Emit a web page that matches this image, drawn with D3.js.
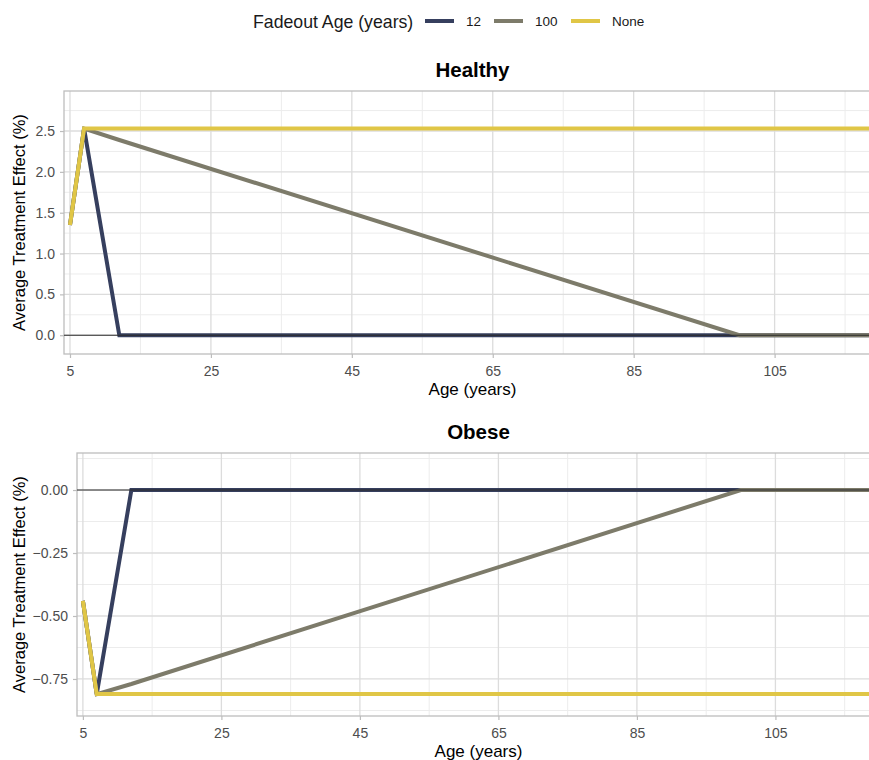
<!DOCTYPE html>
<html><head><meta charset="utf-8">
<script src="https://cdn.jsdelivr.net/npm/d3@7"></script>
<style>body{margin:0;background:#fff;} svg{display:block;font-family:"Liberation Sans",Arial,sans-serif;}</style>
</head><body>
<svg id="chart" width="869" height="760"></svg>
<script>
// ---- data ----
const ages = [5, 7, 12, 100, 125];
const seriesNames = ["12", "100", "None"];
const seriesColors = ["#363f5e", "#7d7b6a", "#e0c646"];
const healthy12 = [1.35, 2.53, 0, 0, 0];
const healthy100 = [1.35, 2.53, 2.39, 0, 0];
const healthyNone = [1.35, 2.53, 2.53, 2.53, 2.53];
const obese12 = [-0.44, -0.81, 0, 0, 0];
const obese100 = [-0.44, -0.81, -0.77, 0, 0];
const obeseNone = [-0.44, -0.81, -0.81, -0.81, -0.81];
const xTicks = [5, 25, 45, 65, 85, 105];
const xMinor = [15, 35, 55, 75, 95, 115];
const healthyYTicks = [0, 0.5, 1, 1.5, 2, 2.5];
const healthyYMinor = [0.25, 0.75, 1.25, 1.75, 2.25, 2.75];
const obeseYTicks = [0, -0.25, -0.5, -0.75];
const obeseYMinor = [0.125, -0.125, -0.375, -0.625, -0.875];

const svg = d3.select("#chart");

// legend
const lg = svg.append("g");
lg.append("text").attr("x", 253).attr("y", 28).attr("font-size", 17.7).attr("fill", "#1a1a1a").text("Fadeout Age (years)");
const legendX = [425, 494, 571];
seriesNames.forEach((n, i) => {
  lg.append("line").attr("x1", legendX[i]).attr("x2", legendX[i] + 29).attr("y1", 21).attr("y2", 21)
    .attr("stroke", seriesColors[i]).attr("stroke-width", 4);
  lg.append("text").attr("x", legendX[i] + 41).attr("y", 26).attr("font-size", 13.5).attr("fill", "#1a1a1a").text(n);
});

function panel(cfg) {
  const g = svg.append("g");
  const R = cfg.right;
  const x = d3.scaleLinear().domain([4.15, 120.1]).range([cfg.left, R]);
  const y = d3.scaleLinear().domain(cfg.yDomain).range([cfg.bottom, cfg.top]);
  // minor grid
  g.selectAll(".xm").data(xMinor).join("line").attr("x1", d => x(d)).attr("x2", d => x(d))
    .attr("y1", cfg.top).attr("y2", cfg.bottom).attr("stroke", "#ececec").attr("stroke-width", 1);
  g.selectAll(".ym").data(cfg.yMinor).join("line").attr("y1", d => y(d)).attr("y2", d => y(d))
    .attr("x1", cfg.left).attr("x2", R).attr("stroke", "#ececec").attr("stroke-width", 1);
  // major grid
  g.selectAll(".xg").data(xTicks).join("line").attr("x1", d => x(d)).attr("x2", d => x(d))
    .attr("y1", cfg.top).attr("y2", cfg.bottom).attr("stroke", "#dcdcdc").attr("stroke-width", 1.3);
  g.selectAll(".yg").data(cfg.yTicks).join("line").attr("y1", d => y(d)).attr("y2", d => y(d))
    .attr("x1", cfg.left).attr("x2", R).attr("stroke", "#dcdcdc").attr("stroke-width", 1.3);
  // border
  g.append("rect").attr("x", cfg.left).attr("y", cfg.top).attr("width", R - cfg.left)
    .attr("height", cfg.bottom - cfg.top).attr("fill", "none").attr("stroke", "#bdbdbd").attr("stroke-width", 1.3);
  // axes
  const xa = g.append("g").attr("transform", `translate(0,${cfg.bottom})`)
    .call(d3.axisBottom(x).tickValues(xTicks).tickFormat(d3.format("d")).tickSize(4).tickPadding(8));
  const ya = g.append("g").attr("transform", `translate(${cfg.left},0)`)
    .call(d3.axisLeft(y).tickValues(cfg.yTicks).tickFormat(cfg.fmt).tickSize(4).tickPadding(5));
  [xa, ya].forEach(a => {
    a.select(".domain").remove();
    a.selectAll(".tick line").attr("stroke", "#bdbdbd").attr("stroke-width", 1.2);
    a.selectAll(".tick text").attr("fill", "#4d4d4d").attr("font-size", 14).attr("font-family", "Liberation Sans, Arial, sans-serif");
  });
  // lines
  const line = d3.line().x((d, i) => x(ages[i])).y(d => y(d));
  const clipId = "clip" + cfg.id;
  svg.append("clipPath").attr("id", clipId).append("rect").attr("x", cfg.left).attr("y", cfg.top)
    .attr("width", R - cfg.left).attr("height", cfg.bottom - cfg.top);
  const lines = g.append("g").attr("clip-path", `url(#${clipId})`);
  cfg.series.forEach((s, i) => {
    lines.append("path").datum(s).attr("d", line).attr("fill", "none")
      .attr("stroke", seriesColors[i]).attr("stroke-width", 4).attr("stroke-linejoin", "miter").attr("stroke-linecap", "butt");
  });
  lines.append("line").attr("x1", cfg.left).attr("x2", R).attr("y1", y(0)).attr("y2", y(0))
    .attr("stroke", "#2b2b2b").attr("stroke-width", 1.1);
  // titles
  const cx = (cfg.left + R) / 2;
  g.append("text").attr("x", cx).attr("y", cfg.top - 14).attr("text-anchor", "middle")
    .attr("font-size", 20.5).attr("font-weight", "bold").attr("fill", "#000").text(cfg.title);
  g.append("text").attr("x", cx).attr("y", cfg.bottom + 41).attr("text-anchor", "middle")
    .attr("font-size", 17).attr("fill", "#000").text("Age (years)");
  g.append("text").attr("transform", `translate(25,${(cfg.top + cfg.bottom) / 2}) rotate(-90)`)
    .attr("text-anchor", "middle").attr("font-size", 16.5).attr("fill", "#000").text("Average Treatment Effect (%)");
}

panel({id: 1, title: "Healthy", left: 64, right: 881, top: 91, bottom: 354, yDomain: [-0.23, 2.99],
  yTicks: healthyYTicks, yMinor: healthyYMinor, fmt: d3.format(".1f"),
  series: [healthy12, healthy100, healthyNone]});
panel({id: 2, title: "Obese", left: 77, right: 880, top: 453, bottom: 716, yDomain: [-0.897, 0.147],
  yTicks: obeseYTicks, yMinor: obeseYMinor, fmt: d3.format(".2f"),
  series: [obese12, obese100, obeseNone]});
</script>
</body></html>
